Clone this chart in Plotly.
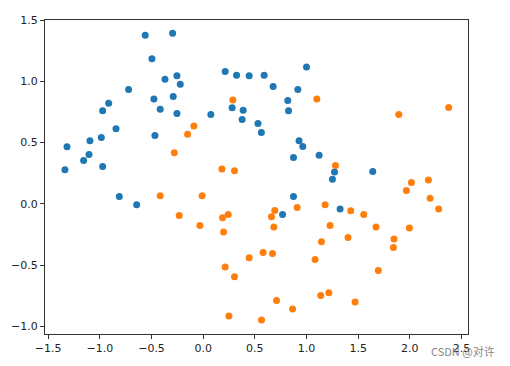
import plotly.graph_objects as go

blue_x = [-0.561, -0.496, -0.722, -0.915, -0.973, -0.296, -0.370, -0.254, -0.222, 0.213,
          0.323, 0.445, 0.590, -0.477, -0.290, -0.416, -0.254, 0.074, 0.280, 0.387,
          0.377, 0.530, 1.000, 0.677, 0.916, 0.819, 0.826, -0.844, -0.986, -1.096,
          -1.318, -1.105, -1.157, -0.973, -1.338, -0.812, -0.644, -0.467, 0.563, 0.928,
          0.964, 0.874, 1.122, 1.271, 1.251, 1.641, 0.874, 0.768, 1.325]
blue_y = [1.376, 1.183, 0.932, 0.821, 0.759, 1.392, 1.017, 1.044, 0.976, 1.079,
          1.050, 1.044, 1.050, 0.856, 0.875, 0.772, 0.737, 0.729, 0.783, 0.764,
          0.688, 0.655, 1.117, 0.957, 0.932, 0.843, 0.759, 0.612, 0.541, 0.514,
          0.465, 0.402, 0.353, 0.304, 0.277, 0.060, -0.008, 0.557, 0.582, 0.514,
          0.468, 0.378, 0.397, 0.259, 0.201, 0.264, 0.060, -0.087, -0.043]

orange_x = [0.287, 1.100, 1.893, 2.376, -0.090, -0.151, -0.280, 0.181, 0.303, -0.416,
            -0.010, -0.232, 0.187, 0.242, -0.032, 0.197, 1.280, 0.693, 0.661, 0.909,
            1.180, 1.428, 1.554, 0.684, 1.228, 1.673, 2.015, 2.180, 1.967, 2.196,
            2.279, 1.996, 0.445, 0.580, 0.213, 0.303, 0.249, 0.565, 1.145, 1.402,
            0.671, 1.083, 1.695, 0.710, 0.865, 1.138, 1.216, 1.470, 1.847, 1.841]
orange_y = [0.848, 0.856, 0.729, 0.786, 0.634, 0.568, 0.416, 0.283, 0.269, 0.065,
            0.065, -0.095, -0.114, -0.087, -0.177, -0.231, 0.313, -0.054, -0.106, -0.030,
            -0.008, -0.057, -0.087, -0.190, -0.177, -0.190, 0.174, 0.193, 0.109, 0.046,
            -0.043, -0.198, -0.440, -0.398, -0.517, -0.595, -0.916, -0.949, -0.310, -0.275,
            -0.405, -0.454, -0.545, -0.789, -0.859, -0.748, -0.726, -0.802, -0.288, -0.356]

fig = go.Figure()
fig.add_trace(go.Scatter(x=blue_x, y=blue_y, mode="markers",
                         marker=dict(color="#1f77b4", size=7, line=dict(width=0))))
fig.add_trace(go.Scatter(x=orange_x, y=orange_y, mode="markers",
                         marker=dict(color="#ff7f0e", size=7, line=dict(width=0))))

axis_common = dict(showgrid=False, zeroline=False, showline=True, linecolor="#333",
                   linewidth=1, mirror=True, ticks="outside", ticklen=4, tickcolor="#333",
                   tickfont=dict(family="DejaVu Sans", size=11, color="#222"),
                   dtick=0.5, tickformat=".1f")
fig.update_layout(
    width=510, height=366, showlegend=False,
    plot_bgcolor="white", paper_bgcolor="white",
    margin=dict(l=45, r=42, t=20, b=32),
    xaxis=dict(range=[-1.531, 2.563], tick0=0, **axis_common),
    yaxis=dict(range=[-1.063, 1.5], tick0=0, **axis_common),
    annotations=[dict(text="CSDN @对许", xref="paper", yref="paper", x=1.069, y=-0.054,
                      xanchor="right", yanchor="middle", showarrow=False,
                      font=dict(family="Noto Sans CJK SC", size=11, color="#888"))],
)
fig.write_html("out.html", config={"displayModeBar": False},
               post_script="document.body.style.margin='0';")
